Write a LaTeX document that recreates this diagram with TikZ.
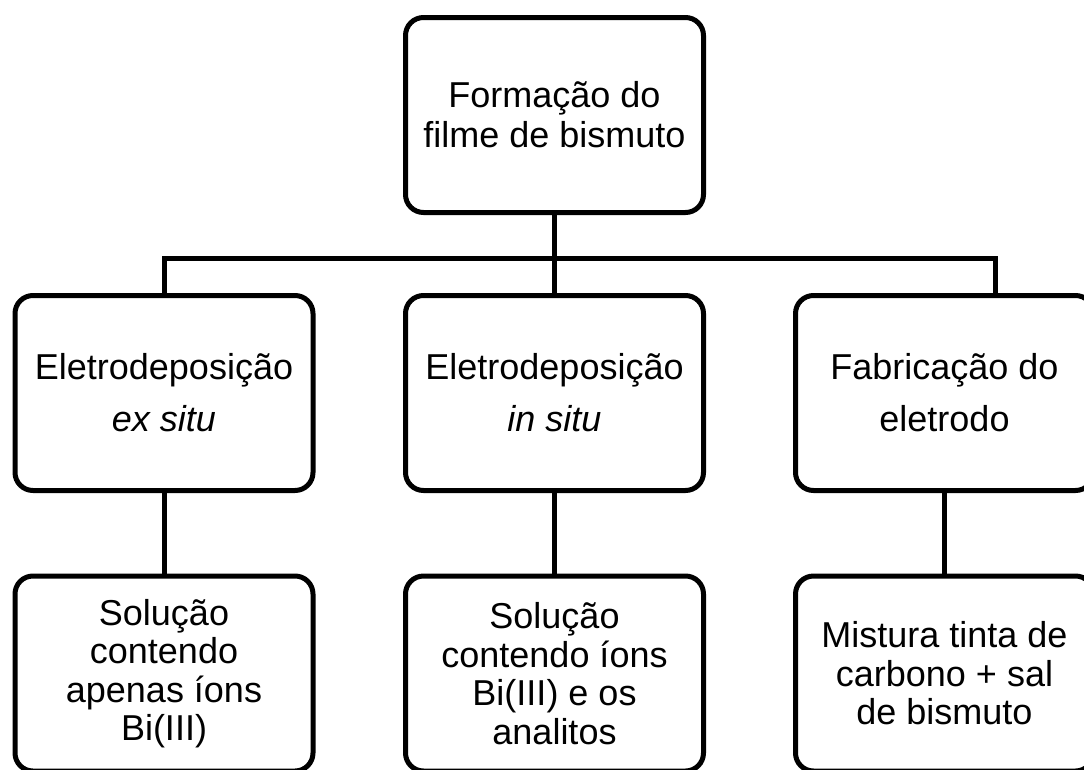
\documentclass[tikz,border=0pt]{standalone}
\usepackage{fontspec}
\setmainfont{Liberation Sans}
\begin{document}
\begin{tikzpicture}[x=1pt,y=-1pt,
  box/.style={draw=black, line width=5pt, rounded corners=18pt,
    minimum width=298pt, minimum height=195pt, inner sep=0pt,
    align=center, text=black},
  toptext/.style={font=\fontsize{36}{40}\selectfont},
  midtext/.style={font=\fontsize{36}{52}\selectfont},
  bottext/.style={font=\fontsize{36}{38.5}\selectfont},
  conn/.style={line width=5pt, draw=black}]
\useasboundingbox (0,0) rectangle (1084,769);
\clip (0,0) rectangle (1084,769);

\node[box, toptext] (top) at (554.5,115) {Formação do\\filme de bismuto};

\node[box, midtext] (exs) at (164,393) {Eletrodeposição\\\textit{ex situ}};
\node[box, midtext] (ins) at (554.5,393) {Eletrodeposição\\\textit{in situ}};
\node[box, midtext] (fab) at (944.5,393) {Fabricação do\\eletrodo};

\node[box, bottext] (sol1) at (164,673.5) {Solução\\contendo\\apenas íons\\Bi(III)};
\node[box, bottext] (sol2) at (554.5,673.5) {Solução\\contendo íons\\Bi(III) e os\\analitos};
\node[box, bottext] (mix) at (944.5,673.5) {Mistura tinta de\\carbono + sal\\de bismuto};

\coordinate (hr) at (995,258);
\coordinate (hl) at (164,258);

\draw[conn] (top.south) -- (ins.north);
\draw[conn] (exs.north) -- (hl) -- (hr) -- (hr |- fab.north);
\draw[conn] (exs.south) -- (sol1.north);
\draw[conn] (ins.south) -- (sol2.north);
\draw[conn] (fab.south) -- (mix.north);
\end{tikzpicture}
\end{document}
